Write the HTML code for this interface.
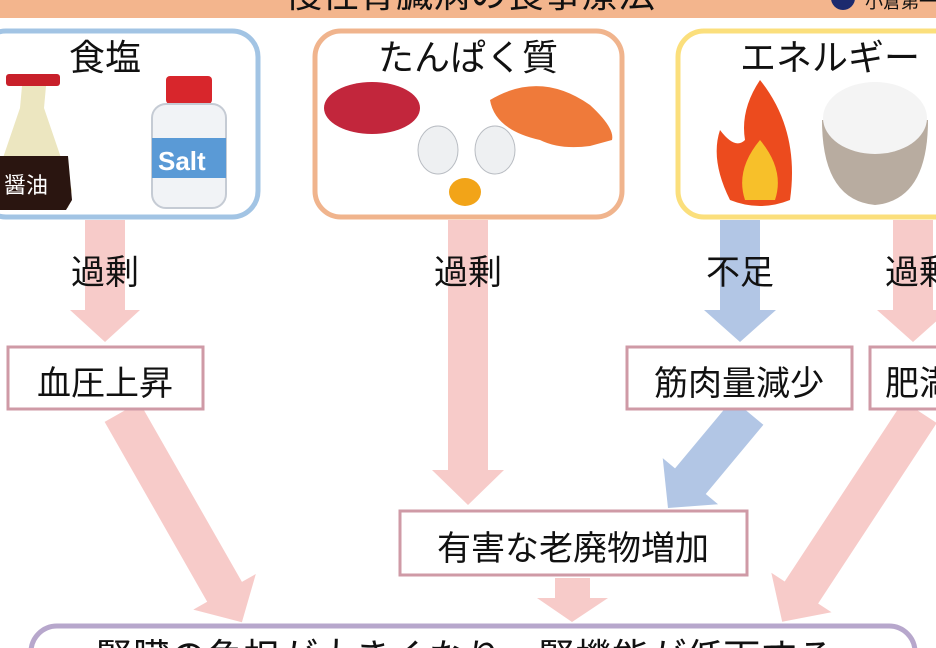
<!DOCTYPE html>
<html><head><meta charset="utf-8"><style>
html,body{margin:0;padding:0;background:#fff;width:936px;height:648px;overflow:hidden;}
svg{display:block;}
text{font-family:"Liberation Sans","Noto Sans CJK JP",sans-serif;fill:#111;}
</style></head><body>
<svg width="936" height="648" viewBox="0 0 936 648" xmlns="http://www.w3.org/2000/svg">
<!-- title band -->
<rect x="0" y="0" width="936" height="18" fill="#f3b58d"/>
<text x="470" y="7" font-size="37" text-anchor="middle">慢性腎臓病の食事療法</text>
<circle cx="843" cy="-2" r="12" fill="#1c2a6e"/>
<text x="865" y="8" font-size="18">小倉第一</text>

<!-- top boxes -->
<rect x="-20" y="31" width="278" height="186" rx="26" fill="#fff" stroke="#a2c4e4" stroke-width="5"/>
<rect x="315" y="31" width="307" height="186" rx="26" fill="#fff" stroke="#f0b48d" stroke-width="5"/>
<rect x="678" y="31" width="290" height="186" rx="26" fill="#fff" stroke="#fbdf7c" stroke-width="5"/>
<text x="105" y="70" font-size="36" text-anchor="middle">食塩</text>
<text x="468" y="70" font-size="36" text-anchor="middle">たんぱく質</text>
<text x="830" y="70" font-size="36" text-anchor="middle">エネルギー</text>

<!-- soy sauce -->
<rect x="6" y="74" width="54" height="12" rx="3" fill="#c8202a"/>
<polygon points="22,86 46,86 44,108 72,190 68,208 -4,208 -8,190 20,108" fill="#ece6c0"/>
<path d="M-6,156 L68,156 L72,200 L66,210 L-4,210 L-8,200Z" fill="#2a1510"/>
<text x="4" y="193" font-size="22" style="fill:#fff">醤油</text>
<!-- salt -->
<rect x="166" y="76" width="46" height="28" rx="4" fill="#d8262c"/>
<rect x="152" y="104" width="74" height="104" rx="14" fill="#f1f3f6" stroke="#c5cbd4" stroke-width="2"/>
<rect x="152" y="138" width="74" height="40" fill="#5a9ad6"/>
<text x="158" y="170" font-size="26" font-weight="bold" style="fill:#fff">Salt</text>
<!-- meat -->
<ellipse cx="372" cy="108" rx="48" ry="26" fill="#c2263c"/>
<!-- salmon -->
<path d="M490,100 Q540,70 590,105 Q615,128 612,140 L590,146 Q560,150 540,140 Q495,130 490,100Z" fill="#ef7a3a"/>
<!-- egg -->
<ellipse cx="438" cy="150" rx="20" ry="24" fill="#eef0f2" stroke="#b8bcc2"/>
<ellipse cx="495" cy="150" rx="20" ry="24" fill="#eef0f2" stroke="#b8bcc2"/>
<ellipse cx="465" cy="192" rx="16" ry="14" fill="#f2a418"/>
<!-- fire -->
<path d="M760,80 Q800,130 790,200 Q760,212 730,200 Q710,160 720,130 Q735,150 745,140 Q740,110 760,80Z" fill="#ec4b1e"/>
<path d="M760,140 Q785,170 775,200 L745,200 Q735,170 760,140Z" fill="#f7c02a"/>
<!-- rice -->
<path d="M822,120 Q822,200 875,205 Q928,200 928,120Z" fill="#b8aca0"/>
<ellipse cx="875" cy="118" rx="52" ry="36" fill="#f4f4f4"/>

<!-- vertical arrows -->
<polygon points="85,220 125,220 125,310 140,310 105,342 70,310 85,310" fill="#f7cbc9"/>
<polygon points="448,220 488,220 488,470 504,470 468,505 432,470 448,470" fill="#f7cbc9"/>
<polygon points="720,220 760,220 760,310 776,310 740,342 704,310 720,310" fill="#b2c6e5"/>
<polygon points="893,220 933,220 933,310 949,310 913,342 877,310 893,310" fill="#f7cbc9"/>
<polygon points="555,578 590,578 590,598 608,598 572,622 537,598 555,598" fill="#f7cbc9"/>

<!-- diagonal arrows -->
<g transform="translate(122,412) rotate(-29.7)"><polygon points="-20,0 20,0 20,207 36,207 0,242 -36,207 -20,207" fill="#f7cbc9"/></g>
<g transform="translate(748,412) rotate(39.8)"><polygon points="-20,0 20,0 20,90 36,90 0,125 -36,90 -20,90" fill="#b2c6e5"/></g>
<g transform="translate(920,412) rotate(33.3)"><polygon points="-20,0 20,0 20,216 36,216 0,251 -36,216 -20,216" fill="#f7cbc9"/></g>

<!-- labels -->
<text x="105" y="284" font-size="34" text-anchor="middle">過剰</text>
<text x="468" y="284" font-size="34" text-anchor="middle">過剰</text>
<text x="740" y="284" font-size="34" text-anchor="middle">不足</text>
<text x="885" y="284" font-size="34">過剰</text>

<!-- mid boxes -->
<rect x="8" y="347" width="195" height="62" fill="#fff" stroke="#cf9aa6" stroke-width="3"/>
<text x="105" y="395" font-size="34" text-anchor="middle">血圧上昇</text>
<rect x="627" y="347" width="225" height="62" fill="#fff" stroke="#cf9aa6" stroke-width="3"/>
<text x="739" y="395" font-size="34" text-anchor="middle">筋肉量減少</text>
<rect x="870" y="347" width="90" height="62" fill="#fff" stroke="#cf9aa6" stroke-width="3"/>
<text x="885" y="395" font-size="34">肥満</text>
<rect x="400" y="511" width="347" height="64" fill="#fff" stroke="#cf9aa6" stroke-width="3"/>
<text x="573" y="560" font-size="34" text-anchor="middle">有害な老廃物増加</text>

<!-- bottom box -->
<rect x="31" y="626" width="884" height="80" rx="26" fill="#fff" stroke="#b7a7cc" stroke-width="5"/>
<text x="465" y="670" font-size="37" text-anchor="middle">腎臓の負担が大きくなり、腎機能が低下する</text>
</svg>
</body></html>
